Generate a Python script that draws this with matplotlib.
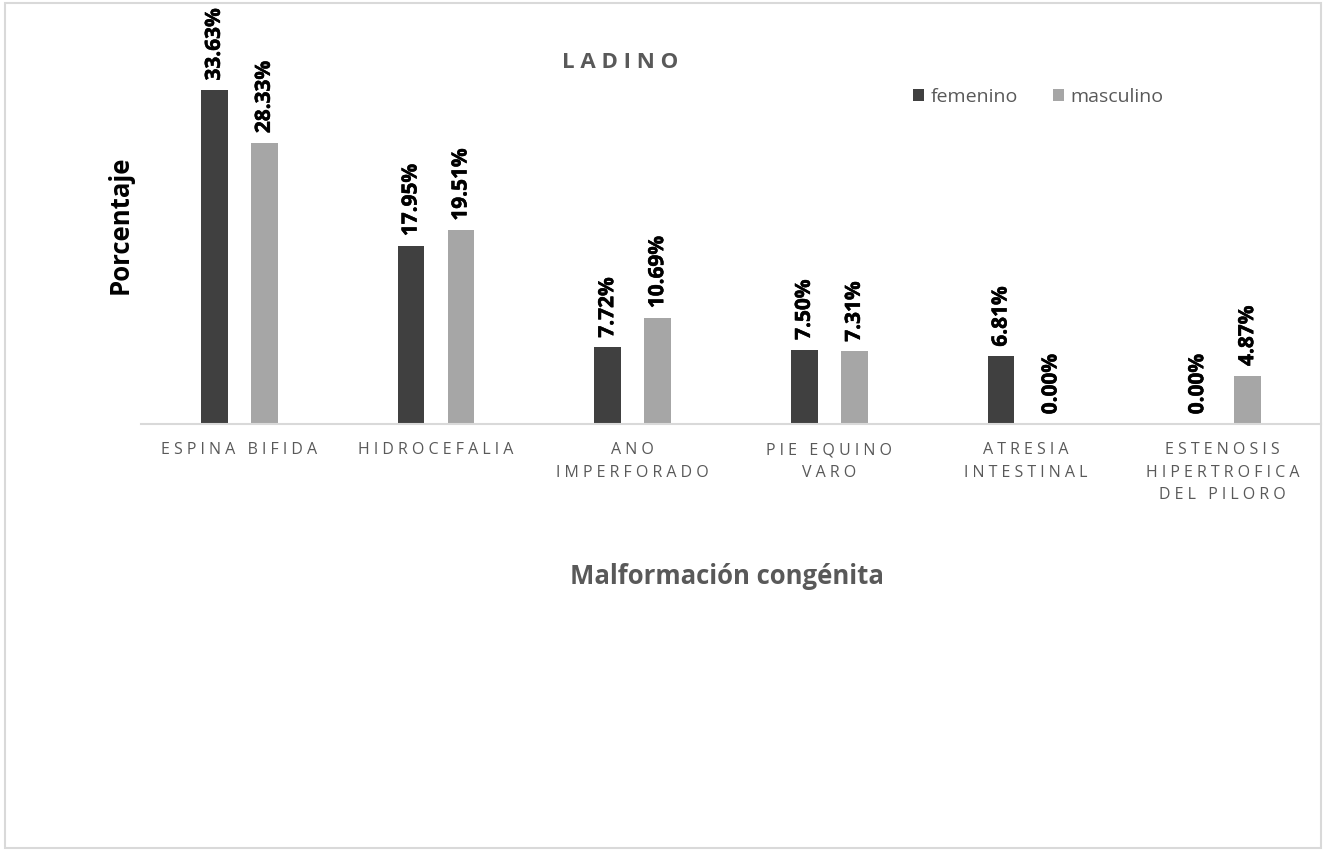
import matplotlib.pyplot as plt
import matplotlib.patheffects as pe
import numpy as np
from matplotlib.patches import Rectangle

# data
categorias = ["ESPINA BIFIDA", "HIDROCEFALIA", "ANO\nIMPERFORADO", "PIE EQUINO\nVARO",
              "ATRESIA\nINTESTINAL", "ESTENOSIS\nHIPERTROFICA\nDEL PILORO"]
femenino = [33.63, 17.95, 7.72, 7.50, 6.81, 0.00]
masculino = [28.33, 19.51, 10.69, 7.31, 0.00, 4.87]

W, H = 1326, 851
fig = plt.figure(figsize=(W / 100, H / 100), dpi=100)
fig.patch.set_facecolor("white")
fig.patches.append(Rectangle((5 / W, 3 / H), 1316 / W, 845 / H, transform=fig.transFigure,
                             facecolor="none", edgecolor="#D9D9D9", linewidth=1.5))

# axes: x 141..1321 px, baseline at 424 px, 40% -> 397 px
ax = fig.add_axes([141 / W, 1 - 424 / H, 1180 / W, 397 / H])
ax.set_xlim(-0.5, len(categorias) - 0.5)
ax.set_ylim(0, 40)

x = np.arange(len(categorias))
off = 0.127
bw = 0.137
b1 = ax.bar(x - off, femenino, bw, color="#404040", label="femenino")
b2 = ax.bar(x + off, masculino, bw, color="#A6A6A6", label="masculino")

for bars, vals in ((b1, femenino), (b2, masculino)):
    for b, v in zip(bars, vals):
        ax.annotate(f"{v:.2f}%", (b.get_x() + b.get_width() / 2, v), xytext=(0, 7),
                    textcoords="offset points", rotation=90, ha="center", va="bottom",
                    fontsize=15, fontweight="bold", family=["Open Sans", "DejaVu Sans"],
                    color="black", annotation_clip=False,
                    path_effects=[pe.withStroke(linewidth=0.4, foreground="black")])

for s in ("left", "right", "top"):
    ax.spines[s].set_visible(False)
ax.spines["bottom"].set_color("#D9D9D9")
ax.spines["bottom"].set_linewidth(1.5)
ax.set_yticks([])
ax.set_xticks(x)
# letter spaced tick labels
spaced = ["\n".join(" ".join(list(line)) for line in c.split("\n")) for c in categorias]
ax.set_xticklabels(spaced, fontsize=11.5, color="#595959", family=["Open Sans", "DejaVu Sans"],
                   linespacing=1.55)
ax.tick_params(axis="x", length=0, pad=13)

fig.text(620 / W, 1 - 62 / H, " ".join("LADINO"), ha="center", va="center", fontsize=16,
         fontweight="bold", color="#595959", family=["Open Sans", "DejaVu Sans"])
fig.text(120 / W, 1 - 225 / H, "Porcentaje", rotation=90, ha="center", va="center",
         fontsize=18.5, fontweight="bold", color="black", family=["Open Sans", "DejaVu Sans"])
fig.text(727 / W, 1 - 577 / H, "Malformación congénita", ha="center", va="center",
         fontsize=18.5, fontweight="bold", color="#595959", family=["Open Sans", "DejaVu Sans"])

leg = fig.legend(loc="center", bbox_to_anchor=(1038 / W, 1 - 97 / H), ncol=2, frameon=False,
                 handlelength=0.6, handleheight=0.6, handletextpad=0.3, columnspacing=1.8,
                 prop={"family": "Open Sans", "size": 14})
for t in leg.get_texts():
    t.set_color("#595959")

fig.savefig("out.png", dpi=100)
